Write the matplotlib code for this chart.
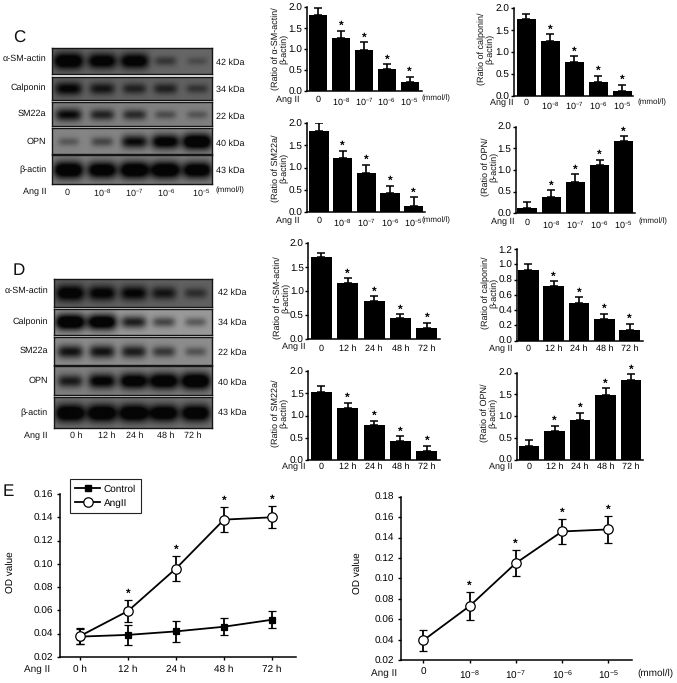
import numpy as np
import matplotlib
matplotlib.use('Agg')
import matplotlib.pyplot as plt
from matplotlib.lines import Line2D

plt.rcParams['font.family'] = ['Liberation Sans', 'DejaVu Sans']
plt.rcParams['mathtext.fontset'] = 'custom'
plt.rcParams['mathtext.rm'] = 'Liberation Sans'
plt.rcParams['mathtext.default'] = 'regular'
plt.rcParams['text.hinting'] = 'no_hinting'
plt.rcParams['text.hinting_factor'] = 1

W, H = 677, 683
FS = 6.2     # small labels
FS_TICK = 6.9
FS_E = 7.0

# tick labels
conc_labels = ['0', '10$^{-8}$', '10$^{-7}$', '10$^{-6}$', '10$^{-5}$']
time_labels = ['0', '12 h', '24 h', '48 h', '72 h']
time_labels_e = ['0 h', '12 h', '24 h', '48 h', '72 h']

# panel C bars: mean and upper error
c_sma = [1.82, 1.27, 0.98, 0.53, 0.22]
c_sma_err = [0.16, 0.17, 0.19, 0.11, 0.12]
c_cal = [1.75, 1.25, 0.78, 0.32, 0.12]
c_cal_err = [0.12, 0.15, 0.12, 0.14, 0.14]
c_sm22 = [1.82, 1.22, 0.88, 0.43, 0.15]
c_sm22_err = [0.17, 0.16, 0.19, 0.17, 0.19]
c_opn = [0.12, 0.37, 0.72, 1.12, 1.66]
c_opn_err = [0.15, 0.16, 0.18, 0.12, 0.12]

# panel D bars
d_sma = [1.72, 1.18, 0.79, 0.43, 0.22]
d_sma_err = [0.08, 0.09, 0.10, 0.09, 0.12]
d_cal = [0.92, 0.72, 0.49, 0.28, 0.14]
d_cal_err = [0.08, 0.06, 0.08, 0.07, 0.08]
d_sm22 = [1.54, 1.17, 0.78, 0.42, 0.20]
d_sm22_err = [0.13, 0.12, 0.11, 0.12, 0.12]
d_opn = [0.32, 0.65, 0.92, 1.48, 1.84]
d_opn_err = [0.13, 0.13, 0.16, 0.16, 0.12]

# panel E lines
e_control = [0.0375, 0.039, 0.042, 0.046, 0.052]
e_control_err = [0.0065, 0.0085, 0.009, 0.0075, 0.0075]
e_ang = [0.038, 0.0595, 0.096, 0.138, 0.140]
e_ang_err = [0.007, 0.0095, 0.0105, 0.0105, 0.0095]
e_dose = [0.0395, 0.073, 0.115, 0.146, 0.148]
e_dose_err = [0.0105, 0.0135, 0.0125, 0.0125, 0.0135]

# blot band darkness per lane, background grey per row
blot_names = ['α-SM-actin', 'Calponin', 'SM22a', 'OPN', 'β-actin']
blot_c_bands = [[1.0, 0.9, 0.9, 0.35, 0.2],
                [0.75, 0.6, 0.5, 0.5, 0.35],
                [0.7, 0.55, 0.5, 0.3, 0.25],
                [0.25, 0.35, 0.7, 0.85, 1.0],
                [1.0, 0.95, 1.0, 1.0, 0.95]]
blot_c_bg = [0.40, 0.38, 0.50, 0.52, 0.50]
blot_d_bands = [[0.9, 0.8, 0.75, 0.6, 0.4],
                [1.0, 0.95, 0.6, 0.4, 0.3],
                [0.65, 0.65, 0.6, 0.45, 0.3],
                [0.6, 0.8, 0.9, 0.95, 1.0],
                [1.0, 1.0, 1.0, 0.95, 0.95]]
blot_d_bg = [0.38, 0.60, 0.55, 0.50, 0.45]
kda_labels = ['42 kDa', '34 kDa', '22 kDa', '40 kDa', '43 kDa']

fig = plt.figure(figsize=(W / 100, H / 100), dpi=100)


def px_axes(left, top, right, bottom):
    return fig.add_axes([left / W, 1 - bottom / H, (right - left) / W, (bottom - top) / H])


def px_text(x, y, s, **kw):
    kw.setdefault('fontsize', FS)
    kw.setdefault('ha', 'center')
    kw.setdefault('va', 'center')
    kw.setdefault('color', '#111111')
    fig.text(x / W, 1 - y / H, s, **kw)


def set_spines(ax):
    ax.spines['top'].set_visible(False)
    ax.spines['right'].set_visible(False)
    ax.spines['left'].set_linewidth(1.1)
    ax.spines['bottom'].set_linewidth(1.1)


def add_star(ax, x, y, off):
    ax.annotate('*', (x, y), xytext=(0, off), textcoords='offset points', ha='center', va='center',
                fontsize=8.5, fontweight='bold', annotation_clip=False)


def bar_panel(box, centers, bar_w, vals, errs, labels, yticks, ylabel, ylabel_xy, angii_xy, xpad, mmol_xy=None):
    left, top, right, bottom = box
    ax = px_axes(left, top, right, bottom)
    step = (centers[1] - centers[0]) / 4
    x = np.arange(5)
    ax.bar(x, vals, width=bar_w / step, color='black')
    ax.errorbar(x, vals, yerr=[np.zeros(5), errs], fmt='none', ecolor='black', elinewidth=1.2,
                capsize=2.6, capthick=1.1)
    ax.set_xlim((left - centers[0]) / step, (right - centers[0]) / step)
    ax.set_ylim(0, yticks[-1])
    set_spines(ax)
    ax.set_xticks(x)
    ax.set_xticklabels(labels, fontsize=FS)
    ax.tick_params(axis='x', length=0, pad=xpad)
    ax.set_yticks(yticks)
    ax.set_yticklabels(['%.1f' % t for t in yticks], fontsize=FS_TICK)
    ax.tick_params(axis='y', length=2.2, width=1, pad=1)
    # control bar has no star
    for i in range(1, 5):
        add_star(ax, i, vals[i] + errs[i], 3.5)
    px_text(ylabel_xy[0], ylabel_xy[1], ylabel, rotation=90, linespacing=1.05)
    px_text(angii_xy[0], angii_xy[1], 'Ang II', fontsize=6.4)
    if mmol_xy:
        px_text(mmol_xy[0], mmol_xy[1], '(mmol/l)', fontsize=6)
    return ax


def blot_panel(x0, x1, rows, lanes, bands, bgs):
    for r, (top, bottom) in enumerate(rows):
        ax = px_axes(x0, top, x1, bottom)
        xs = np.arange(x0, x1, 0.5)
        ys = np.arange(top, bottom, 0.5)
        xx, yy = np.meshgrid(xs, ys)
        field = np.full(xx.shape, float(bgs[r]))
        mid = (top + bottom) / 2 + 0.5
        for c, d in zip(lanes, bands[r]):
            sx = 9 + 6 * d
            sy = 3 + 5.5 * d * (bottom - top) / 28
            field -= 1.35 * bgs[r] * d * np.exp(-((xx - c) / sx) ** 4 - ((yy - mid) / sy) ** 2)
        ax.imshow(np.clip(field, 0.02, 1), cmap='gray', vmin=0, vmax=1, aspect='auto',
                  extent=[x0, x1, bottom, top], interpolation='bilinear')
        ax.set_xticks([])
        ax.set_yticks([])
        for s in ax.spines.values():
            s.set_linewidth(1.0)
            s.set_color('#151515')


# ---- blots ----
rows_c = [(47.7, 74.3), (77, 100.3), (102.3, 126.3), (128.3, 153.7), (155, 183.7)]
lanes_c = [68, 101.7, 134, 165, 196.7]
blot_panel(51.7, 211.7, rows_c, lanes_c, blot_c_bands, blot_c_bg)
for i, name in enumerate(blot_names):
    px_text(46.5, [59, 87.5, 113.5, 141.5, 170][i], name, ha='right')
    px_text(216, [62.5, 89.5, 116.5, 143.5, 171][i], kda_labels[i], ha='left')
px_text(46.5, 192, 'Ang II', ha='right', fontsize=6.4)
for x, s in zip([67, 102, 134, 166, 201], conc_labels):
    px_text(x, 192.5, s)
px_text(230, 190.5, '(mmol/l)', fontsize=6)

rows_d = [(279, 307.3), (308.7, 335.3), (337.3, 364.7), (366, 394.7), (397, 427.7)]
lanes_d = [70, 101.7, 133.3, 163.3, 195]
blot_panel(54, 212.3, rows_d, lanes_d, blot_d_bands, blot_d_bg)
for i, name in enumerate(blot_names):
    px_text(48, [291, 322, 350.5, 381, 413][i], name, ha='right')
    px_text(218, [293, 323, 353, 383, 413][i], kda_labels[i], ha='left')
px_text(48, 436, 'Ang II', ha='right', fontsize=6.4)
for x, s in zip([76, 107, 135, 166, 193], time_labels_e):
    px_text(x, 436, s)

px_text(19.5, 38, 'C', fontsize=12.5)
px_text(19, 271, 'D', fontsize=12.5)
px_text(8.5, 492, 'E', fontsize=12.5)

# ---- bars C ----
ticks2 = [0.0, 0.5, 1.0, 1.5, 2.0]
bar_panel((307, 7.3, 422, 91.3), (318.3, 409.7), 18, c_sma, c_sma_err, conc_labels, ticks2,
          '(Ratio of α-SM-actin/\nβ-actin)', (280, 49), (288, 99.5), 3, (435.7, 98.7))
bar_panel((514, 8, 633, 96), (526, 622), 19, c_cal, c_cal_err, conc_labels, ticks2,
          '(Ratio of calponin/\nβ-actin)', (485.7, 49), (502, 102.7), 2, (652, 102))
bar_panel((307, 123, 425, 212.3), (319, 413.7), 19.3, c_sm22, c_sm22_err, conc_labels, ticks2,
          '(Ratio of SM22a/\nβ-actin)', (280, 168), (288, 220.5), 3, (435.7, 220))
bar_panel((515.7, 126.7, 635, 213.3), (527, 623.7), 19.3, c_opn, c_opn_err, conc_labels, ticks2,
          '(Ratio of OPN/\nβ-actin)', (490, 167), (502.5, 222), 3.5, (653, 221.7))

# ---- bars D ----
bar_panel((308.3, 243.3, 440, 339), (321, 427), 21, d_sma, d_sma_err, time_labels, ticks2,
          '(Ratio of α-SM-actin/\nβ-actin)', (281.7, 298), (294, 346.5), 3.8)
bar_panel((516.7, 249, 642.7, 340.7), (528.3, 629.7), 20.7, d_cal, d_cal_err, time_labels,
          [0.0, 0.2, 0.4, 0.6, 0.8, 1.0, 1.2],
          '(Ratio of calponin/\nβ-actin)', (490, 293), (501, 348.5), 3)
bar_panel((308.3, 371.3, 440, 460), (321, 427), 21, d_sm22, d_sm22_err, time_labels, ticks2,
          '(Ratio of SM22a/\nβ-actin)', (280, 413), (294, 466.5), 1.8)
bar_panel((516.7, 372.7, 643, 459.7), (529, 631), 20.7, d_opn, d_opn_err, time_labels, ticks2,
          '(Ratio of OPN/\nβ-actin)', (489, 413), (501, 467), 1.8)


# ---- lines E ----
def line_axes(box, centers, yticks, labels):
    left, top, right, bottom = box
    ax = px_axes(left, top, right, bottom)
    step = (centers[1] - centers[0]) / 4
    ax.set_xlim((left - centers[0]) / step, (right - centers[0]) / step)
    ax.set_ylim(yticks[0], yticks[-1])
    set_spines(ax)
    ax.set_xticks(np.arange(5))
    ax.set_xticklabels(labels, fontsize=FS_E)
    ax.set_yticks(yticks)
    ax.set_yticklabels(['%.2f' % t for t in yticks], fontsize=FS_E)
    ax.tick_params(axis='both', length=2.5, width=1, pad=2)
    ax.tick_params(axis='x', pad=3)
    return ax


def draw_series(ax, vals, errs, marker, face, ms):
    ax.errorbar(np.arange(5), vals, yerr=errs, color='black', lw=1.3, marker=marker,
                markersize=ms, markerfacecolor=face, markeredgecolor='black', markeredgewidth=0.9,
                elinewidth=1.3, capsize=2.6, capthick=1.2, clip_on=False)


e_ticks_1 = [0.02, 0.04, 0.06, 0.08, 0.10, 0.12, 0.14, 0.16]
ax1 = line_axes((59.5, 494, 296, 657), (80, 272), e_ticks_1, time_labels_e)
draw_series(ax1, e_control, e_control_err, 's', 'black', 5)
draw_series(ax1, e_ang, e_ang_err, 'o', 'white', 6.8)
for i in range(1, 5):
    add_star(ax1, i, e_ang[i] + e_ang_err[i], 4.5)
ax1.set_ylabel('OD value', fontsize=FS_E)
ax1.yaxis.set_label_coords((15 - 59.5) / (296 - 59.5), 0.52)
px_text(36.7, 669, 'Ang II', fontsize=FS_E)
h1 = Line2D([], [], color='black', lw=1.3, marker='s', markersize=5, markerfacecolor='black', label='Control')
h2 = Line2D([], [], color='black', lw=1.3, marker='o', markersize=6.8, markerfacecolor='white',
            markeredgewidth=0.9, label='AngII')
leg = fig.legend(handles=[h1, h2], loc='upper left', bbox_to_anchor=(70 / W, 1 - 479 / H), fontsize=FS_E,
                 fancybox=False, framealpha=1, edgecolor='#222222', borderpad=0.55, labelspacing=0.5,
                 handlelength=2.5, handletextpad=0.4, borderaxespad=0)
leg.get_frame().set_linewidth(0.8)

e_ticks_2 = [0.02, 0.04, 0.06, 0.08, 0.10, 0.12, 0.14, 0.16, 0.18]
ax2 = line_axes((400.7, 496.7, 631.7, 660.3), (423.3, 608.3), e_ticks_2, conc_labels)
draw_series(ax2, e_dose, e_dose_err, 'o', 'white', 6.8)
for i in range(1, 5):
    add_star(ax2, i, e_dose[i] + e_dose_err[i], 4.5)
ax2.set_ylabel('OD value', fontsize=FS_E)
ax2.yaxis.set_label_coords((361.7 - 400.7) / (631.7 - 400.7), 0.53)
px_text(384, 673, 'Ang II', fontsize=FS_E)
px_text(655, 673, '(mmol/l)', fontsize=FS_E)

fig.savefig('out.png', dpi=100)
